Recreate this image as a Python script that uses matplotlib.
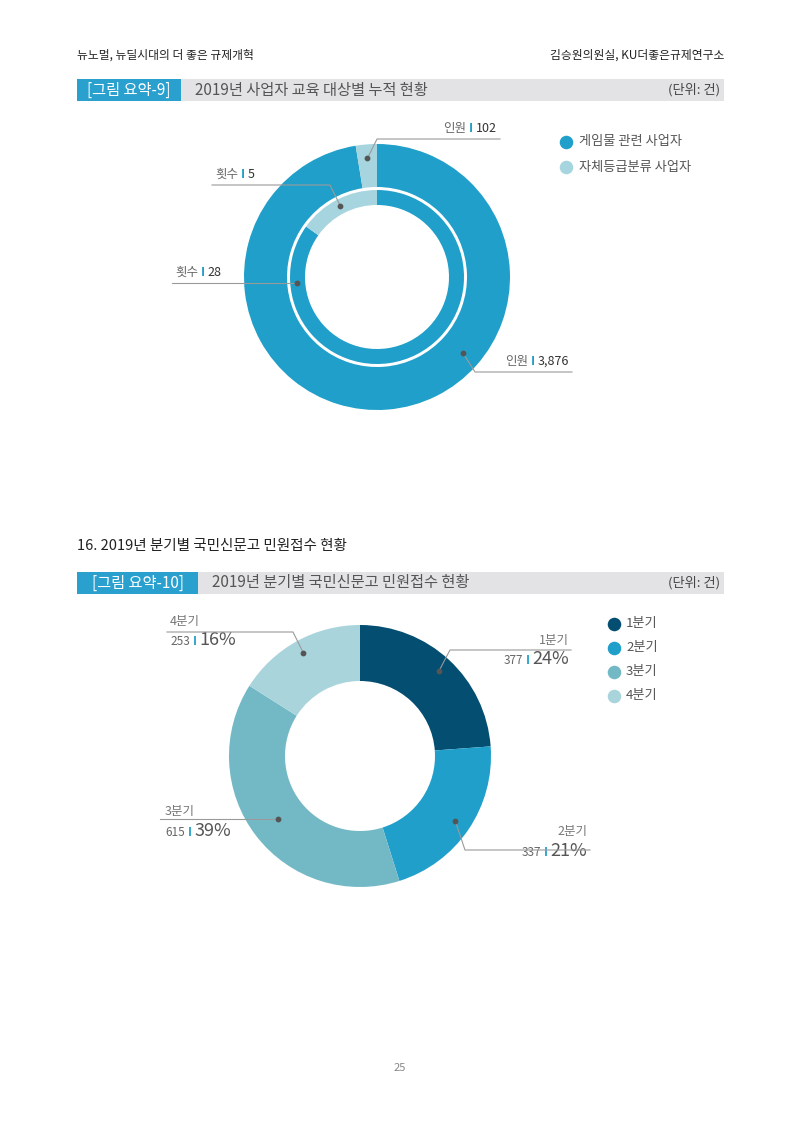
import numpy as np
import matplotlib.pyplot as plt
from matplotlib.patches import Rectangle
from matplotlib.offsetbox import TextArea, HPacker, AnnotationBbox

plt.rcParams['font.family'] = ['Noto Sans CJK KR', 'DejaVu Sans']

# data
edu_groups = ['게임물 관련 사업자', '자체등급분류 사업자']
edu_people = [3876, 102]
edu_sessions = [28, 5]
quarters = ['1분기', '2분기', '3분기', '4분기']
complaints = [377, 337, 615, 253]

W, H = 800, 1132
BLUE = '#1f9fc9'
LIGHT = '#a7d5df'
q_colors = ['#034e71', '#1f9fca', '#73b9c5', '#a9d4dc']
GRAY = '#666666'
LINE = '#9a9a9a'

fig = plt.figure(figsize=(W / 100, H / 100), dpi=100)
ax = fig.add_axes([0, 0, 1, 1])


def Y(y):
    # page pixels (top-down) -> axes y
    return H - y


# ---- page header
ax.text(77, Y(55), '뉴노멀, 뉴딜시대의 더 좋은 규제개혁', fontsize=8.5, color='#222', va='center')
ax.text(724, Y(55), '김승원의원실, KU더좋은규제연구소', fontsize=8.5, color='#222', va='center', ha='right')


def title_bar(y0, y1, box_w, tag, title):
    ax.add_patch(Rectangle((77, Y(y1)), 724 - 77, y1 - y0, color='#e3e3e5', lw=0))
    ax.add_patch(Rectangle((77, Y(y1)), box_w, y1 - y0, color='#2aa0cf', lw=0))
    ym = Y((y0 + y1) / 2)
    ax.text(77 + box_w / 2, ym, tag, fontsize=11, color='white', ha='center', va='center')
    ax.text(77 + box_w + 14, ym, title, fontsize=11, color='#555', va='center')
    ax.text(720, ym, '(단위: 건)', fontsize=9.5, color='#444', ha='right', va='center')


title_bar(79, 101, 104, '[그림 요약-9]', '2019년 사업자 교육 대상별 누적 현황')
ax.text(77, Y(546), '16. 2019년 분기별 국민신문고 민원접수 현황', fontsize=10.5, color='#222', va='center')
title_bar(572, 594, 121, '[그림 요약-10]', '2019년 분기별 국민신문고 민원접수 현황')


def label_box(parts, x, y, align):
    kids = []
    for s, fs, c in parts:
        fw = 'bold' if s == 'I' else 'normal'
        kids.append(TextArea(s, textprops=dict(fontsize=fs, color=c, fontweight=fw)))
    box = HPacker(children=kids, align='baseline', pad=0, sep=2)
    ab = AnnotationBbox(box, (x, Y(y)), xycoords='data', frameon=False, pad=0,
                        box_alignment=(1 if align == 'right' else 0, 0))
    ax.add_artist(ab)


def dot_at(w, cx, cy, r, ang=None):
    if ang is None:
        ang = (w.theta1 + w.theta2) / 2
    a = np.deg2rad(ang)
    return cx + r * np.cos(a), cy - r * np.sin(a)


def leader(p0, pts):
    xs = [p0[0]] + [p[0] for p in pts]
    ys = [Y(p0[1])] + [Y(p[1] if p[1] is not None else p0[1]) for p in pts]
    ax.plot(xs, ys, color=LINE, lw=0.8, zorder=4)
    ax.scatter([p0[0]], [Y(p0[1])], s=10, color='#555', zorder=5)


# ---- chart 1: nested donut
cx1, cy1, R1 = 377, 277, 133
outer, _ = ax.pie(edu_people, colors=[BLUE, LIGHT], startangle=90, counterclock=False,
                  center=(cx1, Y(cy1)), radius=R1, wedgeprops=dict(width=R1 - 90, lw=0))
inner, _ = ax.pie(edu_sessions, colors=[BLUE, LIGHT], startangle=90, counterclock=False,
                  center=(cx1, Y(cy1)), radius=87, wedgeprops=dict(width=15, lw=0))

leader(dot_at(outer[1], cx1, cy1, 119), [(377, 139), (500, 139)])
label_box([('인원', 9, GRAY), ('I', 9, BLUE), (f'{edu_people[1]:,}', 9, '#333')], 497, 135, 'right')
leader(dot_at(outer[0], cx1, cy1, 115, -41.5), [(475, 372), (572, 372)])
label_box([('인원', 9, GRAY), ('I', 9, BLUE), (f'{edu_people[0]:,}', 9, '#333')], 505, 368, 'left')
leader(dot_at(inner[1], cx1, cy1, 80), [(330, 185), (212, 185)])
label_box([('횟수', 9, GRAY), ('I', 9, BLUE), (f'{edu_sessions[1]:,}', 9, '#333')], 215, 181, 'left')
leader(dot_at(inner[0], cx1, cy1, 80, 184), [(172, None)])
label_box([('횟수', 9, GRAY), ('I', 9, BLUE), (f'{edu_sessions[0]:,}', 9, '#333')], 175, 279, 'left')

for i, (g, c) in enumerate(zip(edu_groups, [BLUE, LIGHT])):
    ax.scatter([566], [Y(142 + 25 * i)], s=95, color=c, lw=0)
    ax.text(579, Y(142 + 25 * i), g, fontsize=9.5, color='#555', va='center')

# ---- chart 2: quarterly donut
cx2, cy2, R2 = 360, 756, 131
qw, _ = ax.pie(complaints, colors=q_colors, startangle=90, counterclock=False,
               center=(cx2, Y(cy2)), radius=R2, wedgeprops=dict(width=R2 - 75, lw=0))
total = sum(complaints)
pct = [round(v / total * 100) for v in complaints]

q_layout = [
    # dot radius, leader path, name xy, value xy, align
    (116, [(450, 650), (571, 650)], (569, 644), (569, 668), 'right'),
    (115, [(465, 850), (590, 850)], (587, 835), (587, 860), 'right'),
    (103, [(160, None)], (165, 815), (165, 840), 'left'),
    (118, [(293, 632), (167, 632)], (170, 625), (170, 649), 'left'),
]
for w, q, v, p, (rd, path, nxy, vxy, al) in zip(qw, quarters, complaints, pct, q_layout):
    leader(dot_at(w, cx2, cy2, rd), path)
    ax.text(nxy[0], Y(nxy[1]), q, fontsize=9, color='#777', ha=al)
    label_box([(str(v), 8.5, GRAY), ('I', 8.5, BLUE), (f'{p}%', 13, '#555')], vxy[0], vxy[1], al)

for i, (q, c) in enumerate(zip(quarters, q_colors)):
    ax.scatter([614], [Y(624 + 24 * i)], s=95, color=c, lw=0)
    ax.text(626, Y(624 + 24 * i), q, fontsize=9.5, color='#555', va='center')

ax.text(400, Y(1068), '25', fontsize=8, color='#888', ha='center', va='center')

ax.set_xlim(0, W)
ax.set_ylim(0, H)
ax.set_aspect('auto')
ax.axis('off')
fig.savefig('out.png', dpi=100, facecolor='white')
